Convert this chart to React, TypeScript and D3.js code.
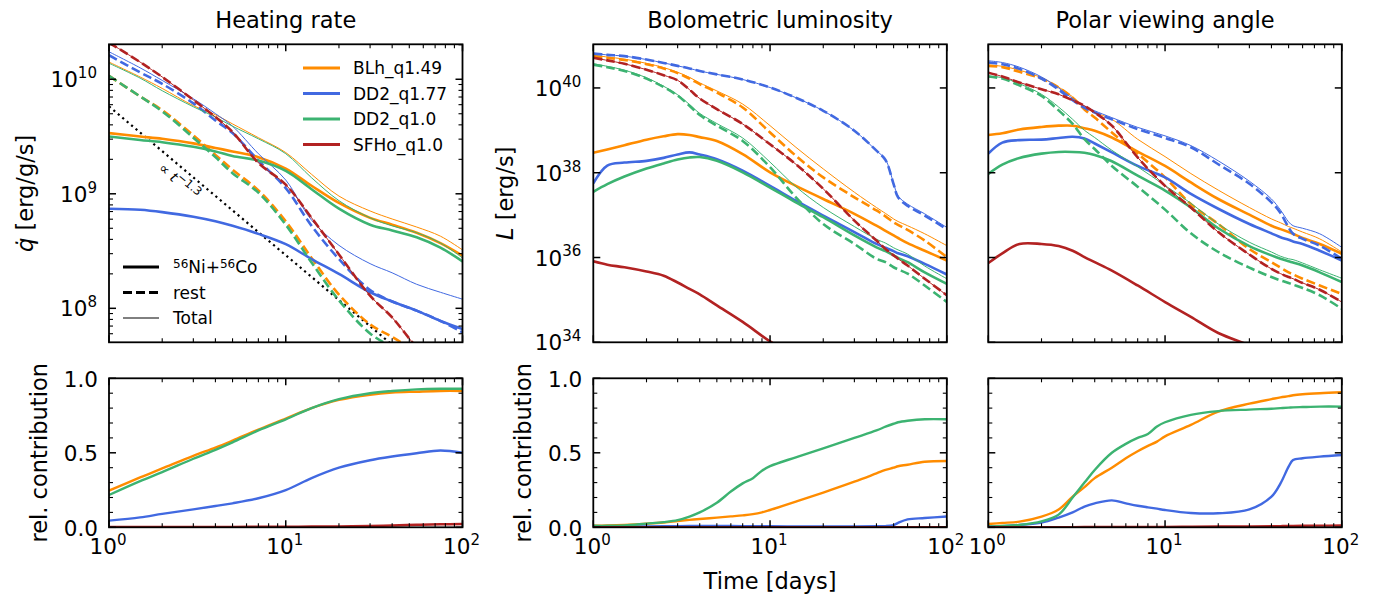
import React from 'react';
import * as d3 from 'd3';

// ---------------- DATA ----------------
const MODELS = ['BLh_q1.49', 'DD2_q1.77', 'DD2_q1.0', 'SFHo_q1.0'];
const COLORS = ['#ff8c00', '#4169e1', '#3cb371', '#b22222'];

// time grids [days]
const T_HEAT = [1, 1.5, 2, 3, 4, 5, 7, 10, 14, 20, 30, 40, 55, 75, 100];
const T_LUM = [1, 1.2, 1.5, 2, 2.5, 3, 3.5, 4, 5, 7, 10, 14, 20, 30, 40, 45, 50, 53, 60, 75, 100];
const T_REL = [1, 1.2, 1.5, 2, 2.5, 3, 3.5, 4, 5, 6, 7, 8, 9, 10, 14, 20, 30, 40, 45, 50, 53, 60, 75, 100];

// Heating rate, log10 q [erg/g/s] on T_HEAT
const HEAT_NI_BLH = [9.53, 9.50, 9.48, 9.44, 9.40, 9.37, 9.32, 9.22, 9.07, 8.92, 8.79, 8.73, 8.66, 8.57, 8.46];
const HEAT_REST_BLH = [10.03, 9.85, 9.73, 9.51, 9.34, 9.21, 9.03, 8.76, 8.44, 8.12, 7.86, 7.75, 7.62, 7.50, 7.38];
const HEAT_TOT_BLH = [10.15, 10.02, 9.92, 9.77, 9.69, 9.61, 9.49, 9.36, 9.17, 8.98, 8.85, 8.78, 8.71, 8.63, 8.51];
const HEAT_NI_DD2A = [8.87, 8.86, 8.84, 8.80, 8.76, 8.72, 8.65, 8.56, 8.43, 8.30, 8.14, 8.06, 7.98, 7.89, 7.82];
const HEAT_REST_DD2A = [10.21, 10.06, 9.96, 9.79, 9.64, 9.53, 9.29, 9.05, 8.72, 8.43, 8.16, 8.06, 7.98, 7.89, 7.79];
const HEAT_TOT_DD2A = [10.24, 10.10, 9.99, 9.83, 9.70, 9.59, 9.35, 9.12, 8.77, 8.55, 8.39, 8.31, 8.21, 8.14, 8.08];
const HEAT_NI_DD2B = [9.50, 9.47, 9.45, 9.41, 9.37, 9.33, 9.29, 9.20, 9.04, 8.87, 8.73, 8.68, 8.62, 8.53, 8.41];
const HEAT_REST_DD2B = [10.03, 9.85, 9.72, 9.49, 9.32, 9.18, 9.01, 8.73, 8.40, 8.07, 7.78, 7.66, 7.52, 7.40, 7.28];
const HEAT_TOT_DD2B = [10.14, 10.01, 9.90, 9.76, 9.67, 9.59, 9.48, 9.35, 9.14, 8.94, 8.79, 8.72, 8.66, 8.57, 8.44];
const HEAT_NI_SFHO = [7.30, 7.20, 7.10, 6.95, 6.85, 6.75, 6.60, 6.45, 6.30, 6.10, 5.95, 5.85, 5.75, 5.65, 5.55];
const HEAT_REST_SFHO = [10.32, 10.15, 10.02, 9.82, 9.67, 9.54, 9.27, 9.08, 8.79, 8.47, 8.11, 7.92, 7.66, 7.45, 7.25];
const HEAT_TOT_SFHO = [10.32, 10.15, 10.02, 9.82, 9.67, 9.54, 9.27, 9.08, 8.79, 8.47, 8.11, 7.92, 7.66, 7.45, 7.25];

// power-law guide  q ~ t^-1.3
const GUIDE_T = [1, 100];
const GUIDE_Q = [5.8e9, 1.46e7];

// Bolometric luminosity, log10 L [erg/s] on T_LUM
const LUM_NI_BLH = [38.47, 38.55, 38.65, 38.78, 38.86, 38.91, 38.89, 38.84, 38.75, 38.44, 38.01, 37.69, 37.38, 37.03, 36.75, 36.63, 36.52, 36.46, 36.34, 36.16, 35.93];
const LUM_REST_BLH = [40.75, 40.71, 40.66, 40.56, 40.46, 40.35, 40.22, 40.09, 39.89, 39.54, 38.95, 38.40, 37.89, 37.42, 37.11, 36.97, 36.83, 36.77, 36.65, 36.40, 36.01];
const LUM_TOT_BLH = [40.77, 40.73, 40.68, 40.58, 40.48, 40.37, 40.25, 40.12, 39.93, 39.62, 39.11, 38.60, 38.09, 37.54, 37.18, 37.04, 36.91, 36.85, 36.75, 36.56, 36.28];
const LUM_NI_DD2A = [37.75, 38.17, 38.24, 38.28, 38.35, 38.43, 38.48, 38.43, 38.32, 38.05, 37.69, 37.34, 36.99, 36.60, 36.32, 36.23, 36.15, 36.10, 36.03, 35.85, 35.60];
const LUM_REST_DD2A = [40.81, 40.78, 40.75, 40.67, 40.59, 40.52, 40.46, 40.40, 40.32, 40.20, 40.01, 39.77, 39.46, 38.99, 38.52, 38.30, 37.73, 37.42, 37.22, 36.99, 36.67];
const LUM_TOT_DD2A = [40.81, 40.78, 40.75, 40.67, 40.59, 40.52, 40.46, 40.40, 40.32, 40.20, 40.01, 39.77, 39.46, 38.99, 38.52, 38.31, 37.75, 37.45, 37.26, 37.03, 36.71];
const LUM_NI_DD2B = [37.55, 37.73, 37.91, 38.10, 38.22, 38.31, 38.36, 38.37, 38.28, 38.01, 37.65, 37.30, 36.95, 36.52, 36.24, 36.15, 36.05, 35.99, 35.89, 35.65, 35.38];
const LUM_REST_DD2B = [40.55, 40.49, 40.40, 40.22, 40.02, 39.82, 39.58, 39.36, 39.11, 38.75, 38.13, 37.42, 36.79, 36.32, 35.97, 35.89, 35.77, 35.72, 35.62, 35.34, 34.95];
const LUM_TOT_DD2B = [40.57, 40.51, 40.42, 40.24, 40.04, 39.84, 39.61, 39.40, 39.16, 38.82, 38.25, 37.67, 37.18, 36.73, 36.43, 36.34, 36.23, 36.18, 36.08, 35.80, 35.50];
const LUM_NI_SFHO = [35.91, 35.83, 35.77, 35.67, 35.57, 35.41, 35.26, 35.13, 34.87, 34.48, 34.02, 33.65, 33.20, 32.70, 32.40, 32.30, 32.20, 32.15, 32.05, 31.85, 31.55];
const LUM_REST_SFHO = [40.71, 40.65, 40.57, 40.43, 40.30, 40.18, 39.96, 39.75, 39.50, 39.15, 38.67, 38.20, 37.62, 36.87, 36.40, 36.20, 36.05, 35.97, 35.81, 35.50, 35.11];
const LUM_TOT_SFHO = [40.71, 40.65, 40.57, 40.43, 40.30, 40.18, 39.96, 39.75, 39.50, 39.15, 38.67, 38.20, 37.62, 36.87, 36.40, 36.20, 36.05, 35.97, 35.81, 35.50, 35.11];

// Polar viewing angle, log10 L [erg/s] on T_LUM
const POL_NI_BLH = [38.89, 38.93, 39.02, 39.08, 39.11, 39.11, 39.05, 38.99, 38.83, 38.50, 38.16, 37.77, 37.38, 37.01, 36.75, 36.67, 36.60, 36.56, 36.46, 36.32, 36.09];
const POL_REST_BLH = [40.52, 40.49, 40.38, 40.22, 40.01, 39.77, 39.49, 39.30, 38.95, 38.45, 37.89, 37.26, 36.79, 36.20, 35.89, 35.76, 35.65, 35.60, 35.50, 35.34, 35.14];
const POL_TOT_BLH = [40.54, 40.51, 40.42, 40.24, 40.02, 39.79, 39.55, 39.42, 39.26, 38.79, 38.38, 37.98, 37.59, 37.18, 36.91, 36.82, 36.73, 36.69, 36.60, 36.44, 36.13];
const POL_NI_DD2A = [38.45, 38.71, 38.77, 38.78, 38.82, 38.85, 38.81, 38.69, 38.48, 38.16, 37.89, 37.50, 37.15, 36.79, 36.57, 36.48, 36.42, 36.38, 36.32, 36.16, 35.93];
const POL_REST_DD2A = [40.60, 40.56, 40.45, 40.22, 39.96, 39.71, 39.53, 39.42, 39.26, 39.03, 38.82, 38.60, 38.20, 37.74, 37.30, 37.05, 36.71, 36.56, 36.44, 36.28, 35.97];
const POL_TOT_DD2A = [40.64, 40.60, 40.49, 40.26, 40.00, 39.75, 39.57, 39.46, 39.30, 39.07, 38.87, 38.64, 38.28, 37.80, 37.38, 37.12, 36.84, 36.75, 36.69, 36.56, 36.24];
const POL_NI_DD2B = [37.97, 38.19, 38.35, 38.45, 38.49, 38.49, 38.47, 38.42, 38.27, 37.93, 37.58, 37.18, 36.69, 36.27, 36.05, 35.97, 35.91, 35.88, 35.81, 35.65, 35.42];
const POL_REST_DD2B = [40.27, 40.22, 40.06, 39.81, 39.47, 39.15, 38.79, 38.56, 38.16, 37.67, 37.13, 36.57, 36.13, 35.76, 35.54, 35.46, 35.40, 35.36, 35.28, 35.11, 34.79];
const POL_TOT_DD2B = [40.28, 40.24, 40.10, 39.85, 39.55, 39.26, 39.00, 38.83, 38.53, 38.14, 37.70, 37.28, 36.79, 36.36, 36.13, 36.03, 35.97, 35.95, 35.87, 35.71, 35.51];
const POL_NI_SFHO = [35.87, 36.10, 36.32, 36.32, 36.27, 36.16, 36.01, 35.89, 35.69, 35.34, 34.95, 34.60, 34.22, 33.93, 33.70, 33.60, 33.50, 33.45, 33.35, 33.15, 32.90];
const POL_REST_SFHO = [40.36, 40.27, 40.13, 39.97, 39.85, 39.71, 39.58, 39.42, 39.11, 38.36, 37.69, 37.18, 36.60, 36.07, 35.73, 35.62, 35.54, 35.50, 35.40, 35.24, 34.95];
const POL_TOT_SFHO = [40.36, 40.27, 40.13, 39.97, 39.85, 39.71, 39.58, 39.42, 39.11, 38.36, 37.69, 37.18, 36.60, 36.07, 35.73, 35.62, 35.54, 35.50, 35.40, 35.24, 34.95];

// Relative contribution of 56Ni+56Co — heating rate (T_HEAT)
const REL_HEAT_BLH = [0.246, 0.335, 0.395, 0.48, 0.535, 0.582, 0.656, 0.73, 0.80, 0.855, 0.89, 0.904, 0.91, 0.915, 0.915];
const REL_HEAT_DD2A = [0.045, 0.067, 0.09, 0.12, 0.143, 0.161, 0.195, 0.25, 0.33, 0.40, 0.45, 0.475, 0.497, 0.515, 0.50];
const REL_HEAT_DD2B = [0.217, 0.31, 0.37, 0.46, 0.52, 0.57, 0.65, 0.725, 0.80, 0.86, 0.90, 0.915, 0.926, 0.93, 0.93];
const REL_HEAT_SFHO = [0.003, 0.003, 0.003, 0.003, 0.003, 0.003, 0.004, 0.004, 0.005, 0.006, 0.009, 0.012, 0.017, 0.02, 0.022];

// Relative contribution — bolometric luminosity (T_REL)
const REL_LUM_BLH = [0.01, 0.012, 0.016, 0.024, 0.032, 0.042, 0.05, 0.056, 0.065, 0.073, 0.08, 0.088, 0.10, 0.116, 0.172, 0.233, 0.306, 0.362, 0.385, 0.40, 0.41, 0.42, 0.44, 0.445];
const REL_LUM_DD2A = [0.003, 0.004, 0.005, 0.006, 0.007, 0.008, 0.009, 0.009, 0.009, 0.009, 0.008, 0.008, 0.007, 0.007, 0.006, 0.006, 0.006, 0.007, 0.008, 0.015, 0.03, 0.053, 0.062, 0.072];
const REL_LUM_DD2B = [0.01, 0.01, 0.012, 0.025, 0.035, 0.048, 0.072, 0.10, 0.165, 0.24, 0.295, 0.33, 0.38, 0.41, 0.47, 0.53, 0.60, 0.65, 0.675, 0.695, 0.705, 0.715, 0.725, 0.725];
const REL_LUM_SFHO = [0.001, 0.001, 0.001, 0.001, 0.001, 0.001, 0.001, 0.001, 0.001, 0.001, 0.001, 0.001, 0.001, 0.001, 0.001, 0.001, 0.001, 0.001, 0.001, 0.001, 0.001, 0.001, 0.001, 0.001];

// Relative contribution — polar viewing angle (T_REL)
const REL_POL_BLH = [0.022, 0.029, 0.038, 0.072, 0.12, 0.206, 0.27, 0.33, 0.40, 0.463, 0.51, 0.546, 0.575, 0.61, 0.687, 0.776, 0.83, 0.86, 0.872, 0.88, 0.886, 0.893, 0.90, 0.906];
const REL_POL_DD2A = [0.005, 0.008, 0.016, 0.031, 0.065, 0.10, 0.139, 0.161, 0.181, 0.161, 0.145, 0.134, 0.125, 0.116, 0.096, 0.094, 0.12, 0.206, 0.295, 0.407, 0.452, 0.463, 0.474, 0.485];
const REL_POL_DD2B = [0.005, 0.009, 0.016, 0.04, 0.085, 0.20, 0.30, 0.385, 0.50, 0.56, 0.60, 0.626, 0.676, 0.705, 0.755, 0.78, 0.79, 0.796, 0.80, 0.803, 0.805, 0.807, 0.81, 0.81];
const REL_POL_SFHO = [0.001, 0.001, 0.001, 0.001, 0.001, 0.001, 0.002, 0.002, 0.002, 0.002, 0.003, 0.003, 0.003, 0.003, 0.004, 0.005, 0.006, 0.007, 0.008, 0.009, 0.009, 0.010, 0.011, 0.012];

// axis ticks
const X_MAJOR = [1, 10, 100];
const X_MAJOR_EXP = ['0', '1', '2'];
const Q_MAJOR = [1e8, 1e9, 1e10];
const Q_MAJOR_EXP = ['8', '9', '10'];
const L_MAJOR = [1e34, 1e36, 1e38, 1e40];
const L_MAJOR_EXP = ['34', '36', '38', '40'];
const REL_MAJOR = [0, 0.5, 1.0];
const REL_MAJOR_LABELS = ['0.0', '0.5', '1.0'];

// ---------------- LAYOUT ----------------
const W = 1375;
const H = 597;
const COL_X = [109, 593.3, 988.3];
const PW = 353.5;
const TOP_Y = [44.3, 342.3];
const BOT_Y = [378.3, 527.3];
const FONT = 'DejaVu Sans, Liberation Sans, sans-serif';
const FS_TICK = 21.5;
const FS_LABEL = 22.5;

const minorLog = (lo: number, hi: number) => {
  const out: number[] = [];
  for (let e = Math.floor(Math.log10(lo)); e <= Math.ceil(Math.log10(hi)); e++) {
    for (let m = 2; m <= 9; m++) {
      const v = m * Math.pow(10, e);
      if (v > lo * 1.001 && v < hi * 0.999) out.push(v);
    }
  }
  return out;
};

type Series = { color: string; vals: number[]; t: number[]; style: 'ni' | 'rest' | 'tot' | 'rel' };

const lw = { ni: 2.6, rest: 2.6, tot: 1.0, rel: 2.4 };

function PowText({ x, y, exp, anchor, fs }: { x: number; y: number; exp: string; anchor: string; fs: number }) {
  return (
    <text x={x} y={y} textAnchor={anchor as any} fontSize={fs} fontFamily={FONT} fill="#000">
      10<tspan dy={-0.42 * fs} fontSize={fs * 0.7}>{exp}</tspan>
    </text>
  );
}

function Panel({ id, x0, y0, y1, xScale, yScale, series, yMajor, yMinor, isLogY, children }: any) {
  const x1 = x0 + PW;
  const xMinor = minorLog(1, 100);
  const lineGen = (s: Series) =>
    d3
      .line<number>()
      .x((_, i) => xScale(s.t[i]))
      .y((v) => yScale(isLogY ? Math.pow(10, v) : v))
      .curve(d3.curveCatmullRom.alpha(0.5))(s.vals) || '';
  const tick = (key: string, x1_: number, y1_: number, x2_: number, y2_: number, w: number) => (
    <line key={key} x1={x1_} y1={y1_} x2={x2_} y2={y2_} stroke="#000" strokeWidth={w} />
  );
  const ticks: any[] = [];
  X_MAJOR.forEach((v, i) => {
    const x = xScale(v);
    ticks.push(tick(`xb${i}`, x, y1, x, y1 - 7, 1.5));
    ticks.push(tick(`xt${i}`, x, y0, x, y0 + 7, 1.5));
  });
  xMinor.forEach((v, i) => {
    const x = xScale(v);
    ticks.push(tick(`xmb${i}`, x, y1, x, y1 - 4, 1.1));
    ticks.push(tick(`xmt${i}`, x, y0, x, y0 + 4, 1.1));
  });
  yMajor.forEach((v: number, i: number) => {
    const y = yScale(v);
    ticks.push(tick(`yl${i}`, x0, y, x0 + 7, y, 1.5));
    ticks.push(tick(`yr${i}`, x1, y, x1 - 7, y, 1.5));
  });
  yMinor.forEach((v: number, i: number) => {
    const y = yScale(v);
    ticks.push(tick(`yml${i}`, x0, y, x0 + 4, y, 1.1));
    ticks.push(tick(`ymr${i}`, x1, y, x1 - 4, y, 1.1));
  });
  return (
    <g>
      <defs>
        <clipPath id={id}>
          <rect x={x0} y={y0} width={PW} height={y1 - y0} />
        </clipPath>
      </defs>
      <g clipPath={`url(#${id})`}>
        {children}
        {series.map((s: Series, i: number) => (
          <path
            key={i}
            d={lineGen(s)}
            fill="none"
            stroke={s.color}
            strokeWidth={lw[s.style]}
            strokeDasharray={s.style === 'rest' ? '9,4' : undefined}
            strokeLinecap="butt"
            strokeLinejoin="round"
          />
        ))}
      </g>
      {ticks}
      <rect x={x0} y={y0} width={PW} height={y1 - y0} fill="none" stroke="#000" strokeWidth={1.8} />
    </g>
  );
}

export default function App() {
  const xScales = COL_X.map((x0) => d3.scaleLog().domain([1, 100]).range([x0, x0 + PW]));
  const yHeat = d3.scaleLog().domain([5.05e7, 2.02e10]).range([TOP_Y[1], TOP_Y[0]]);
  const yLum = d3.scaleLog().domain([1e34, 1.07e41]).range([TOP_Y[1], TOP_Y[0]]);
  const yRel = d3.scaleLinear().domain([0, 1]).range([BOT_Y[1], BOT_Y[0]]);

  const heat = [
    [HEAT_NI_BLH, HEAT_REST_BLH, HEAT_TOT_BLH],
    [HEAT_NI_DD2A, HEAT_REST_DD2A, HEAT_TOT_DD2A],
    [HEAT_NI_DD2B, HEAT_REST_DD2B, HEAT_TOT_DD2B],
    [HEAT_NI_SFHO, HEAT_REST_SFHO, HEAT_TOT_SFHO],
  ];
  const lum = [
    [LUM_NI_BLH, LUM_REST_BLH, LUM_TOT_BLH],
    [LUM_NI_DD2A, LUM_REST_DD2A, LUM_TOT_DD2A],
    [LUM_NI_DD2B, LUM_REST_DD2B, LUM_TOT_DD2B],
    [LUM_NI_SFHO, LUM_REST_SFHO, LUM_TOT_SFHO],
  ];
  const pol = [
    [POL_NI_BLH, POL_REST_BLH, POL_TOT_BLH],
    [POL_NI_DD2A, POL_REST_DD2A, POL_TOT_DD2A],
    [POL_NI_DD2B, POL_REST_DD2B, POL_TOT_DD2B],
    [POL_NI_SFHO, POL_REST_SFHO, POL_TOT_SFHO],
  ];
  const relHeat = [REL_HEAT_BLH, REL_HEAT_DD2A, REL_HEAT_DD2B, REL_HEAT_SFHO];
  const relLum = [REL_LUM_BLH, REL_LUM_DD2A, REL_LUM_DD2B, REL_LUM_SFHO];
  const relPol = [REL_POL_BLH, REL_POL_DD2A, REL_POL_DD2B, REL_POL_SFHO];

  const topSeries = (sets: number[][][], t: number[]): Series[] => {
    const out: Series[] = [];
    sets.forEach((s, m) => {
      out.push({ color: COLORS[m], vals: s[0], t, style: 'ni' });
      out.push({ color: COLORS[m], vals: s[2], t, style: 'tot' });
      out.push({ color: COLORS[m], vals: s[1], t, style: 'rest' });
    });
    return out;
  };
  const relSeries = (sets: number[][], t: number[]): Series[] =>
    sets.map((v, m) => ({ color: COLORS[m], vals: v, t, style: 'rel' as const }));

  const relMinor = d3.range(1, 10).filter((k) => k !== 5).map((k) => k / 10);
  const qMinor = minorLog(5.05e7, 2.02e10);

  const guide = d3
    .line<number>()
    .x((_, i) => xScales[0](GUIDE_T[i]))
    .y((v) => yHeat(v))(GUIDE_Q) || '';

  const gx0 = xScales[0](GUIDE_T[0]);
  const gy0 = yHeat(GUIDE_Q[0]);
  const gx1 = xScales[0](GUIDE_T[1]);
  const gy1 = yHeat(GUIDE_Q[1]);
  const gAngle = (Math.atan2(gy1 - gy0, gx1 - gx0) * 180) / Math.PI;

  const titles = ['Heating rate', 'Bolometric luminosity', 'Polar viewing angle'];

  return (
    <svg
      width={W}
      height={H}
      viewBox={`0 0 ${W} ${H}`}
      style={{ position: 'absolute', left: 0, top: 0, background: '#fff' }}
      fontFamily={FONT}
    >
      <rect x={0} y={0} width={W} height={H} fill="#fff" />
      {titles.map((t, i) => (
        <text key={t} x={COL_X[i] + PW / 2} y={28} textAnchor="middle" fontSize={FS_LABEL} fill="#000">
          {t}
        </text>
      ))}

      <Panel id="cp0" x0={COL_X[0]} y0={TOP_Y[0]} y1={TOP_Y[1]} xScale={xScales[0]} yScale={yHeat}
        series={topSeries(heat, T_HEAT)} yMajor={Q_MAJOR} yMinor={qMinor} isLogY>
        <path d={guide} fill="none" stroke="#000" strokeWidth={2.2} strokeDasharray="2.2,3.6" />
      </Panel>
      <Panel id="cp1" x0={COL_X[1]} y0={TOP_Y[0]} y1={TOP_Y[1]} xScale={xScales[1]} yScale={yLum}
        series={topSeries(lum, T_LUM)} yMajor={L_MAJOR} yMinor={[]} isLogY />
      <Panel id="cp2" x0={COL_X[2]} y0={TOP_Y[0]} y1={TOP_Y[1]} xScale={xScales[2]} yScale={yLum}
        series={topSeries(pol, T_LUM)} yMajor={L_MAJOR} yMinor={[]} isLogY />

      <Panel id="cb0" x0={COL_X[0]} y0={BOT_Y[0]} y1={BOT_Y[1]} xScale={xScales[0]} yScale={yRel}
        series={relSeries(relHeat, T_HEAT)} yMajor={REL_MAJOR} yMinor={relMinor} isLogY={false} />
      <Panel id="cb1" x0={COL_X[1]} y0={BOT_Y[0]} y1={BOT_Y[1]} xScale={xScales[1]} yScale={yRel}
        series={relSeries(relLum, T_REL)} yMajor={REL_MAJOR} yMinor={relMinor} isLogY={false} />
      <Panel id="cb2" x0={COL_X[2]} y0={BOT_Y[0]} y1={BOT_Y[1]} xScale={xScales[2]} yScale={yRel}
        series={relSeries(relPol, T_REL)} yMajor={REL_MAJOR} yMinor={relMinor} isLogY={false} />

      {Q_MAJOR.map((v, i) => (
        <PowText key={`q${i}`} x={COL_X[0] - 12} y={yHeat(v) + 8} exp={Q_MAJOR_EXP[i]} anchor="end" fs={FS_TICK} />
      ))}
      {L_MAJOR.map((v, i) => (
        <PowText key={`l${i}`} x={COL_X[1] - 12} y={yLum(v) + 8} exp={L_MAJOR_EXP[i]} anchor="end" fs={FS_TICK} />
      ))}
      {[0, 1].map((c) =>
        REL_MAJOR.map((v, i) => (
          <text key={`r${c}${i}`} x={COL_X[c] - 11} y={yRel(v) + 8.5} textAnchor="end" fontSize={FS_TICK} fill="#000">
            {REL_MAJOR_LABELS[i]}
          </text>
        ))
      )}
      {[0, 1, 2].map((c) =>
        X_MAJOR.map((v, i) => (
          <PowText key={`x${c}${i}`} x={xScales[c](v) - 1} y={554} exp={X_MAJOR_EXP[i]} anchor="middle" fs={FS_TICK} />
        ))
      )}

      <text transform={`translate(33,${(TOP_Y[0] + TOP_Y[1]) / 2}) rotate(-90)`} textAnchor="middle" fontSize={FS_LABEL} fill="#000">
        <tspan fontStyle="italic">q{'\u0307'}</tspan>
        <tspan> [erg/g/s]</tspan>
      </text>
      <text transform={`translate(513,${(TOP_Y[0] + TOP_Y[1]) / 2}) rotate(-90)`} textAnchor="middle" fontSize={FS_LABEL} fill="#000">
        <tspan fontStyle="italic">L</tspan>
        <tspan> [erg/s]</tspan>
      </text>
      <text transform={`translate(47,${(BOT_Y[0] + BOT_Y[1]) / 2}) rotate(-90)`} textAnchor="middle" fontSize={FS_LABEL} fill="#000">
        rel. contribution
      </text>
      <text transform={`translate(531,${(BOT_Y[0] + BOT_Y[1]) / 2}) rotate(-90)`} textAnchor="middle" fontSize={FS_LABEL} fill="#000">
        rel. contribution
      </text>
      <text x={COL_X[1] + PW / 2} y={589} textAnchor="middle" fontSize={FS_LABEL} fill="#000">
        Time [days]
      </text>

      <text transform={`translate(176,185) rotate(${gAngle})`} textAnchor="middle" fontSize={14} fill="#000">
        <tspan>{'\u221D '}</tspan>
        <tspan fontStyle="italic">t</tspan>
        <tspan dy={-5.5} fontSize={11.5}>{'\u22121.3'}</tspan>
      </text>

      {MODELS.map((m, i) => {
        const y = 68 + i * 25.5;
        return (
          <g key={m}>
            <line x1={303} x2={340} y1={y} y2={y} stroke={COLORS[i]} strokeWidth={3} />
            <text x={353} y={y + 6} fontSize={17} fill="#000">
              {m}
            </text>
          </g>
        );
      })}

      {[0, 1, 2].map((i) => {
        const y = 267 + i * 25.5;
        return (
          <g key={`sl${i}`}>
            <line x1={123} x2={159} y1={y} y2={y} stroke="#000" strokeWidth={i === 2 ? 1 : 2.8}
              strokeDasharray={i === 1 ? '9,4' : undefined} />
            {i === 0 ? (
              <text x={173} y={y + 6} fontSize={17} fill="#000">
                <tspan dy={-5} fontSize={12}>56</tspan>
                <tspan dy={5}>Ni+</tspan>
                <tspan dy={-5} fontSize={12}>56</tspan>
                <tspan dy={5}>Co</tspan>
              </text>
            ) : (
              <text x={173} y={y + 6} fontSize={17} fill="#000">
                {i === 1 ? 'rest' : 'Total'}
              </text>
            )}
          </g>
        );
      })}
    </svg>
  );
}
